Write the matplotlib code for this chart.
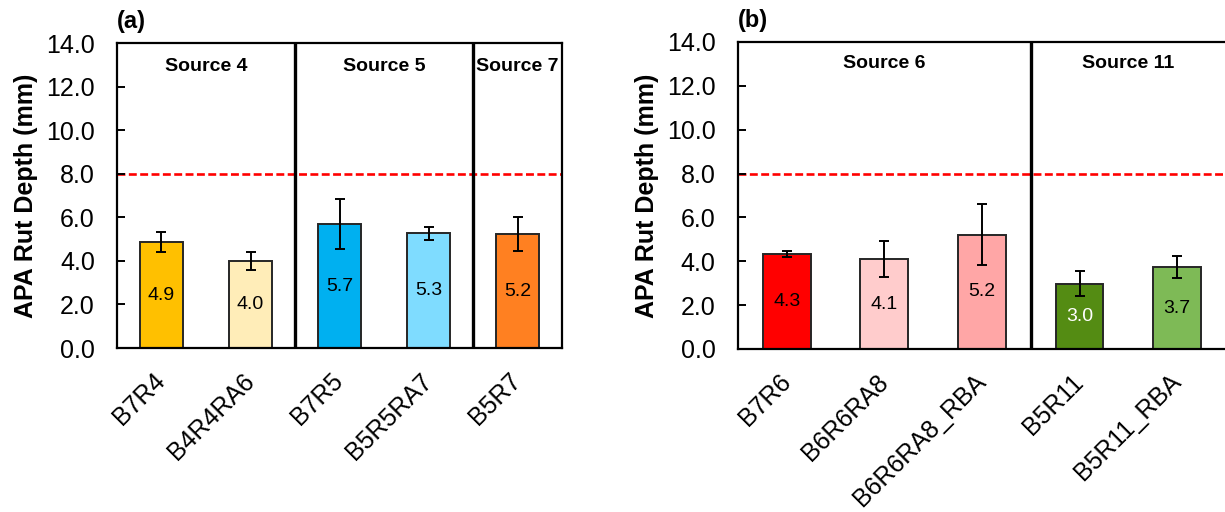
import numpy as np
import matplotlib
matplotlib.use("Agg")
import matplotlib.pyplot as plt

plt.rcParams['font.family'] = ['Liberation Sans', 'DejaVu Sans']

# panel (a)
labels_a = ['B7R4', 'B4R4RA6', 'B7R5', 'B5R5RA7', 'B5R7']
rut_a = [4.86, 3.99, 5.69, 5.26, 5.23]
err_a = [0.47, 0.40, 1.15, 0.30, 0.80]
colors_a = ['#FFC000', '#FFEDB8', '#00B0F0', '#7FDCFF', '#FF8021']
groups_a = ['Source 4', 'Source 5', 'Source 7']
group_sizes_a = [2, 2, 1]

# panel (b)
labels_b = ['B7R6', 'B6R6RA8', 'B6R6RA8_RBA', 'B5R11', 'B5R11_RBA']
rut_b = [4.33, 4.09, 5.21, 2.98, 3.72]
err_b = [0.14, 0.83, 1.40, 0.58, 0.50]
colors_b = ['#FF0000', '#FFCCCC', '#FFA6A6', '#548C13', '#7EBA56']
text_colors_b = ['black', 'black', 'black', 'white', 'black']
groups_b = ['Source 6', 'Source 11']
group_sizes_b = [3, 2]

limit = 8.0


def draw_panel(ax, labels, vals, errs, colors, groups, sizes, tag,
               xmax, text_colors=None, src_y=12.9):
    x = np.arange(len(labels))
    ax.bar(x, vals, width=0.49, color=colors, edgecolor='#262626',
           linewidth=1.4, zorder=2)
    ax.errorbar(x, vals, yerr=errs, fmt='none', ecolor='black',
                elinewidth=1.4, capsize=3.8, capthick=1.4, zorder=3)
    if text_colors is None:
        text_colors = ['black'] * len(labels)
    for xi, v, c in zip(x, vals, text_colors):
        ax.text(xi, v / 2, f'{v:.1f}', ha='center', va='center',
                fontsize=14, color=c, zorder=4)

    # 8 mm criterion
    ax.axhline(limit, color='#FF0000', lw=1.9, ls=(0, (3.0, 1.3)), zorder=1)

    start = 0
    for name, n in zip(groups, sizes):
        center = start + (n - 1) / 2
        ax.text(center, src_y, name, ha='center', va='center',
                fontsize=14, fontweight='bold')
        start += n
        if start < len(labels):
            ax.axvline(start - 0.5, color='black', lw=2.4, zorder=1)

    ax.set_xlim(-0.5, xmax)
    ax.set_ylim(0, 14)
    ax.set_yticks(np.arange(0, 14.1, 2))
    ax.set_yticklabels([f'{t:.1f}' for t in np.arange(0, 14.1, 2)])
    ax.set_xticks(x)
    ax.set_xticklabels(labels, rotation=45, ha='right', va='center',
                       rotation_mode='anchor')
    ax.tick_params(axis='y', direction='in', length=6, width=1.4,
                   labelsize=18, pad=16)
    ax.tick_params(axis='x', length=0, labelsize=18, pad=21)
    for s in ax.spines.values():
        s.set_linewidth(1.6)
        s.set_color('black')
    ax.set_ylabel('APA Rut Depth (mm)', fontsize=18, fontweight='bold',
                  labelpad=6)
    ax.text(0.0, 1.07, tag, transform=ax.transAxes, ha='left',
            va='center', fontsize=17, fontweight='bold')


fig = plt.figure(figsize=(12.25, 5.12), dpi=100)
ax_a = fig.add_axes([0.0955, 0.3203, 0.3633, 0.5957])
ax_b = fig.add_axes([0.6024, 0.3184, 0.4, 0.5996])

draw_panel(ax_a, labels_a, rut_a, err_a, colors_a, groups_a,
           group_sizes_a, '(a)', 4.5, src_y=12.9)
draw_panel(ax_b, labels_b, rut_b, err_b, colors_b, groups_b,
           group_sizes_b, '(b)', 4.52, text_colors=text_colors_b,
           src_y=13.0)

fig.savefig('out.png', dpi=100)
